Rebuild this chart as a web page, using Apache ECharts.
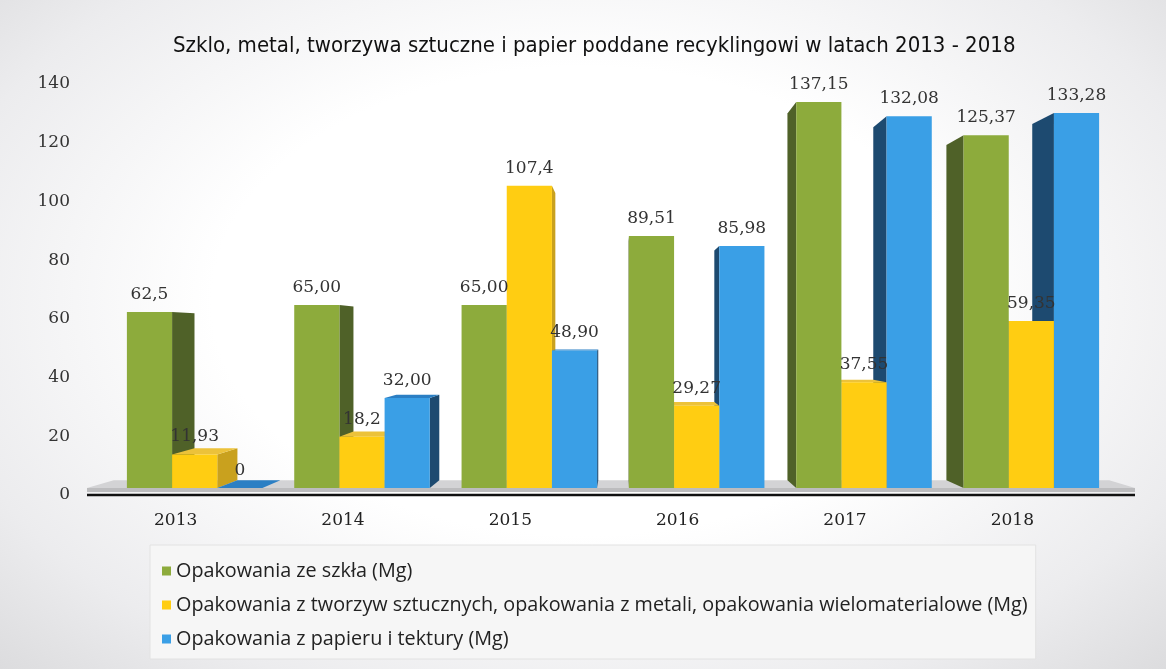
<!DOCTYPE html>
<html lang="pl">
<head>
<meta charset="UTF-8">
<title>Recykling 2013 - 2018</title>
<style>
  html, body { margin: 0; padding: 0; }
  body {
    width: 1166px; height: 669px;
    background: radial-gradient(ellipse at 50% 45%, #ffffff 45%, #ececee 80%, #dcdcde 100%);
  }
  #chart { width: 1166px; height: 669px; }
</style>
</head>
<body>
<div id="chart"></div>
<script src="https://cdn.jsdelivr.net/npm/echarts@6/dist/echarts.min.js"></script>
<script>
// dane
const years = ['2013', '2014', '2015', '2016', '2017', '2018']
const glass = [62.5, 65.00, 65.00, 89.51, 137.15, 125.37]
const plastic = [11.93, 18.2, 107.4, 29.27, 37.55, 59.35]
const paper = [0, 32.00, 48.90, 85.98, 132.08, 133.28]
const glassLabels = ['62,5', '65,00', '65,00', '89,51', '137,15', '125,37']
const plasticLabels = ['11,93', '18,2', '107,4', '29,27', '37,55', '59,35']
const paperLabels = ['0', '32,00', '48,90', '85,98', '132,08', '133,28']
const seriesNames = [
  'Opakowania ze szkła (Mg)',
  'Opakowania z tworzyw sztucznych, opakowania z metali, opakowania wielomaterialowe (Mg)',
  'Opakowania z papieru i tektury (Mg)'
]

const colors = [
  { front: '#8dab3c', side: '#4f6128', top: '#a6bf57' },
  { front: '#ffcd12', side: '#c9a11e', top: '#ecc23a' },
  { front: '#3a9fe6', side: '#1d4a70', top: '#2b7fc4' }
]

const serif = 'DejaVu Serif'
const K = 0.95 // glebokosc perspektywy

function project(vx, vy, x, y) {
  return [vx + (x - vx) * K, vy + (y - vy) * K]
}

function makeBarRenderer(s, labels) {
  return function (params, api) {
    const j = api.value(0)
    const v = api.value(1)
    const base = api.coord([j, 0])
    const top = api.coord([j, v])
    const band = api.size([1, 0])[0]
    const bw = band * 0.27
    const x0 = base[0] - 1.5 * bw + s * bw
    const x1 = x0 + bw
    const yT = top[1]
    const yB = base[1]
    const vx = api.getWidth() * 0.532
    const vy = api.coord([0, 55])[1]
    const c = colors[s]
    const order = base[0] < vx ? s : 2 - s
    const z = order * 3
    const children = []

    // bok
    let sx = null
    if (x1 < vx) sx = x1
    else if (x0 > vx) sx = x0
    if (sx !== null && yB - yT > 0.5) {
      const a = project(vx, vy, sx, yT)
      const b = project(vx, vy, sx, yB)
      children.push({
        type: 'polygon',
        z2: z,
        shape: { points: [[sx, yT], a, b, [sx, yB]] },
        style: { fill: c.side }
      })
    }
    // gora
    if (yT > vy) {
      const a = project(vx, vy, x0, yT)
      const b = project(vx, vy, x1, yT)
      children.push({
        type: 'polygon',
        z2: z + 1,
        shape: { points: [[x0, yT], [x1, yT], b, a] },
        style: { fill: c.top }
      })
    }
    // przod
    if (yB - yT > 0.5) {
      children.push({
        type: 'rect',
        z2: z + 2,
        shape: { x: x0, y: yT, width: bw, height: yB - yT },
        style: { fill: c.front }
      })
    }
    children.push({
      type: 'text',
      z2: 50,
      x: x0 + bw / 2,
      y: yT - 9,
      style: {
        text: labels[j],
        fill: '#333',
        fontFamily: serif,
        fontSize: 17,
        align: 'center',
        verticalAlign: 'bottom'
      }
    })
    return { type: 'group', children: children }
  }
}

function renderFloor(params, api) {
  const band = api.size([1, 0])[0]
  const first = api.coord([0, 0])
  const last = api.coord([years.length - 1, 0])
  const xL = first[0] - band / 2 - 24
  const xR = last[0] + band / 2 + 20
  const y = first[1]
  const vx = api.getWidth() * 0.532
  const vy = api.coord([0, 55])[1]
  const bl = project(vx, vy, xL, y)
  const br = project(vx, vy, xR, y)
  return {
    type: 'group',
    children: [
      {
        type: 'polygon',
        shape: { points: [[xL, y], [xR, y], br, bl] },
        style: { fill: '#d3d3d5' }
      },
      {
        type: 'rect',
        shape: { x: xL, y: y, width: xR - xL, height: 4 },
        style: { fill: '#bcbcbe' }
      },
      {
        type: 'line',
        shape: { x1: xL, y1: y + 7, x2: xR, y2: y + 7 },
        style: { stroke: '#111', lineWidth: 2.5 }
      }
    ]
  }
}

const chart = echarts.init(document.getElementById('chart'))

const seriesValues = [glass, plastic, paper]
const seriesLabels = [glassLabels, plasticLabels, paperLabels]

const barSeries = seriesValues.map((vals, s) => ({
  name: seriesNames[s],
  type: 'custom',
  xAxisIndex: 0,
  yAxisIndex: 0,
  z: 2,
  itemStyle: { color: colors[s].front },
  renderItem: makeBarRenderer(s, seriesLabels[s]),
  data: vals.map((v, j) => [j, v])
}))

chart.setOption({
  animation: false,
  backgroundColor: 'transparent',
  title: {
    text: 'Szklo, metal, tworzywa sztuczne i papier poddane recyklingowi w latach 2013 - 2018',
    left: 168,
    top: 30,
    textStyle: {
      fontFamily: 'Liberation Sans Narrow, DejaVu Sans Condensed, sans-serif',
      fontSize: 22,
      fontWeight: 'normal',
      color: '#111'
    }
  },
  legend: {
    orient: 'vertical',
    left: 150,
    top: 545,
    padding: [16, 8, 10, 12],
    itemGap: 14,
    itemWidth: 9,
    itemHeight: 9,
    icon: 'rect',
    backgroundColor: '#f6f6f6',
    borderColor: '#e2e2e2',
    borderWidth: 1,
    data: seriesNames,
    textStyle: {
      fontFamily: 'Open Sans',
      fontSize: 19.8,
      color: '#222'
    }
  },
  grid: [
    { left: 111, right: 51, top: 94, bottom: 181 },
    { left: 80, right: 51, top: 84, bottom: 174 }
  ],
  xAxis: [
    {
      type: 'category',
      gridIndex: 0,
      data: years,
      axisLine: { show: false },
      axisTick: { show: false },
      axisLabel: {
        margin: 24,
        padding: [0, 38, 0, 0],
        fontFamily: serif,
        fontSize: 17,
        color: '#222'
      }
    },
    {
      type: 'category',
      gridIndex: 1,
      data: years,
      show: false
    }
  ],
  yAxis: [
    {
      type: 'value',
      gridIndex: 0,
      min: 0,
      max: 140,
      interval: 20,
      show: false,
      splitLine: { show: false }
    },
    {
      type: 'value',
      gridIndex: 1,
      min: 0,
      max: 140,
      interval: 20,
      axisLine: { show: false },
      axisTick: { show: false },
      splitLine: { show: false },
      axisLabel: {
        margin: 10,
        fontFamily: serif,
        fontSize: 17,
        color: '#333'
      }
    }
  ],
  series: [
    {
      type: 'custom',
      xAxisIndex: 0,
      yAxisIndex: 0,
      z: 1,
      silent: true,
      renderItem: renderFloor,
      data: [[0, 0]]
    }
  ].concat(barSeries)
})
</script>
</body>
</html>
